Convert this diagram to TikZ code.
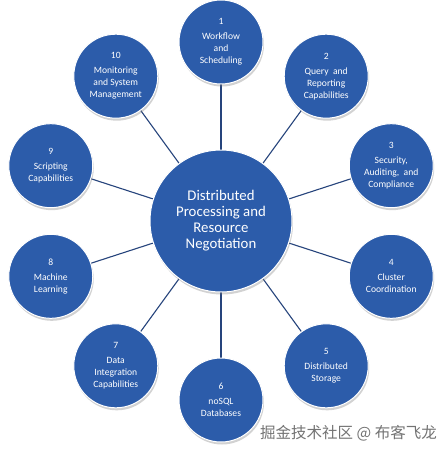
\documentclass[tikz,border=0pt]{standalone}
\usepackage{fontspec}
\setmainfont{Carlito}
\newfontfamily\cjk{Noto Sans CJK SC}
\usetikzlibrary{shadows}
\definecolor{cblue}{RGB}{44,92,170}
\definecolor{lblue}{RGB}{38,68,124}
\definecolor{wgray}{RGB}{115,115,115}
\tikzset{
  bubble/.style={circle, fill=cblue, draw=white, line width=1pt, inner sep=0pt,
    text=white, align=center,
    drop shadow={shadow xshift=1pt, shadow yshift=-2.5pt, opacity=0.35, fill=gray}},
  sat/.style={bubble, minimum size=84pt, font=\fontsize{9.6}{12}\selectfont},
  hub/.style={bubble, minimum size=142pt, font=\fontsize{14.8}{16}\selectfont},
  spoke/.style={draw=lblue, line width=1.1pt},
  wmark/.style={text=wgray, font=\cjk\fontsize{15.5}{17}\selectfont, inner sep=0pt}
}
\begin{document}
\begin{tikzpicture}[x=1pt,y=-1pt]
\useasboundingbox[fill=white] (0,0) rectangle (440,453);
\def\R{179}
\foreach \i/\ang in {1/90,2/54,3/18,4/-18,5/-54,6/-90,7/-126,8/-162,9/162,10/126}{
  \coordinate (p\i) at ({221+\R*cos(\ang)},{221-\R*sin(\ang)});
}
\coordinate (pc) at (221,221);
\foreach \i in {1,...,10}{ \draw[spoke] (pc) -- (p\i); }
\node[hub] (c) at (pc) {Distributed\\Processing and\\Resource\\Negotiation};
\node[sat] (s1) at (p1) {1\\[3pt]Workflow\\and\\Scheduling};
\node[sat] (s2) at (p2) {2\\[3pt]Query\ \ and\\Reporting\\Capabilities};
\node[sat] (s3) at (p3) {3\\[3pt]Security,\\Auditing,\ \ and\\Compliance};
\node[sat] (s4) at (p4) {4\\[3pt]Cluster\\Coordination};
\node[sat] (s5) at (p5) {5\\[3pt]Distributed\\Storage};
\node[sat] (s6) at (p6) {6\\[3pt]noSQL\\Databases};
\node[sat] (s7) at (p7) {7\\[3pt]Data\\Integration\\Capabilities};
\node[sat] (s8) at (p8) {8\\[3pt]Machine\\Learning};
\node[sat] (s9) at (p9) {9\\[3pt]Scripting\\Capabilities};
\node[sat] (s10) at (p10) {10\\[3pt]Monitoring\\and System\\Management};
\node[wmark, anchor=east] (wm) at (437,433) {掘金技术社区 @ 布客飞龙};
\end{tikzpicture}
\end{document}
